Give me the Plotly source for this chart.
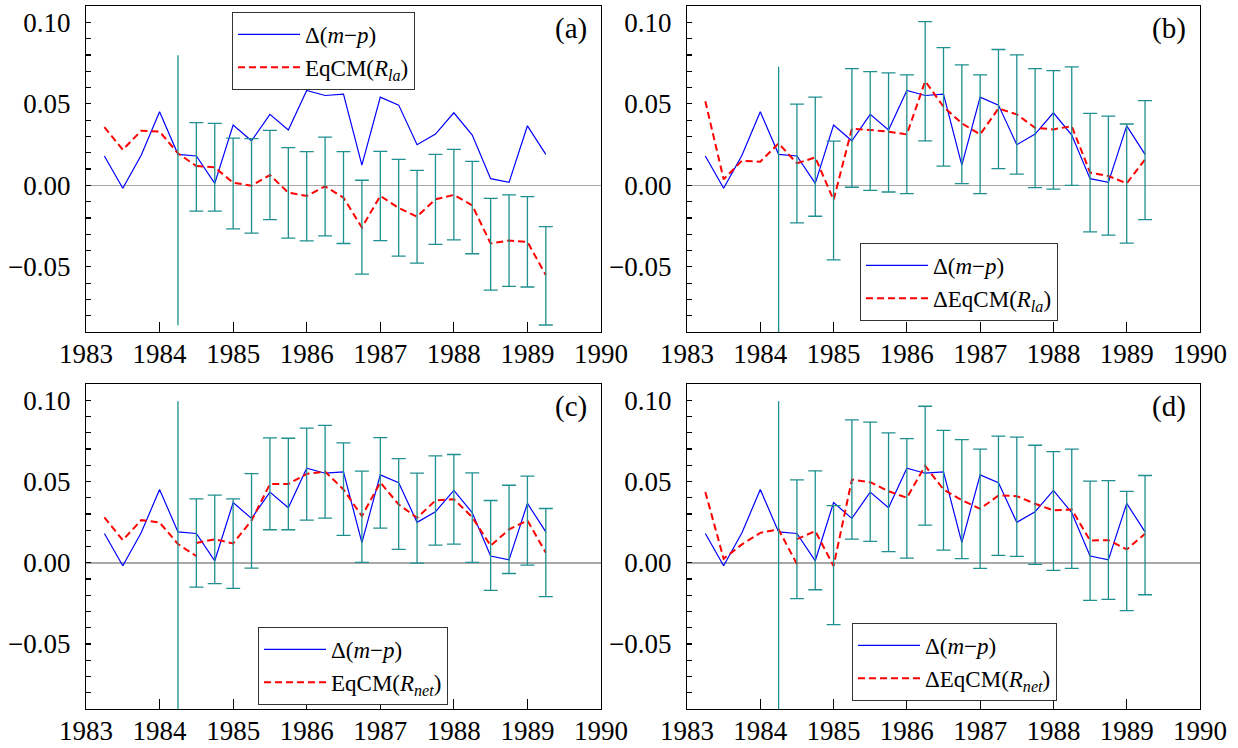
import plotly.graph_objects as go

# ---------------- data ----------------
quarters = [1983.25, 1983.50, 1983.75, 1984.00, 1984.25, 1984.50, 1984.75,
            1985.00, 1985.25, 1985.50, 1985.75, 1986.00, 1986.25, 1986.50,
            1986.75, 1987.00, 1987.25, 1987.50, 1987.75, 1988.00, 1988.25,
            1988.50, 1988.75, 1989.00, 1989.25]

# observed Delta(m-p)
d_mp = [0.0180, -0.0018, 0.0184, 0.0451, 0.0190, 0.0180, 0.0012, 0.0370,
        0.0273, 0.0435, 0.0339, 0.0582, 0.0551, 0.0559, 0.0124, 0.0541,
        0.0492, 0.0249, 0.0314, 0.0445, 0.0308, 0.0041, 0.0018, 0.0365,
        0.0190]

# quarters before the forecast period (1983.25 .. 1984.50)
fit_quarters = [1983.25, 1983.50, 1983.75, 1984.00, 1984.25, 1984.50]
# forecast period (1984.50 .. 1989.25)
fc_quarters = [1984.50, 1984.75, 1985.00, 1985.25, 1985.50, 1985.75, 1986.00,
               1986.25, 1986.50, 1986.75, 1987.00, 1987.25, 1987.50, 1987.75,
               1988.00, 1988.25, 1988.50, 1988.75, 1989.00, 1989.25]
first_bar_quarter = [1984.25]

# (a) EqCM(R_la)
a_fit = [0.0357, 0.0218, 0.0335, 0.0330, 0.0196, 0.0118]
a_fc = [0.0118, 0.0110, 0.0016, -0.0002, 0.0063, -0.0045, -0.0065, -0.0006,
        -0.0076, -0.0259, -0.0065, -0.0139, -0.0192, -0.0086, -0.0059,
        -0.0124, -0.0357, -0.0339, -0.0347, -0.0551]
a_hi = [0.0384, 0.0380, 0.0290, 0.0286, 0.0337, 0.0231, 0.0206, 0.0296,
        0.0206, 0.0031, 0.0208, 0.0159, 0.0092, 0.0190, 0.0220, 0.0147,
        -0.0080, -0.0059, -0.0069, -0.0253]
a_lo = [-0.0159, -0.0159, -0.0267, -0.0294, -0.0210, -0.0324, -0.0341,
        -0.0310, -0.0357, -0.0545, -0.0339, -0.0435, -0.0478, -0.0363,
        -0.0335, -0.0420, -0.0643, -0.0620, -0.0624, -0.0857]
a_first = [0.0798, -0.0859]   # hi, lo

# (b) Delta EqCM(R_la)
b_fit = [0.0516, 0.0037, 0.0151, 0.0145, 0.0257, 0.0135]
b_fc = [0.0135, 0.0171, -0.0090, 0.0347, 0.0339, 0.0329, 0.0312, 0.0639,
        0.0482, 0.0380, 0.0312, 0.0471, 0.0435, 0.0353, 0.0343, 0.0363,
        0.0078, 0.0057, 0.0012, 0.0159]
b_hi = [0.0498, 0.0541, 0.0271, 0.0716, 0.0698, 0.0690, 0.0678, 0.1004,
        0.0845, 0.0739, 0.0678, 0.0833, 0.0800, 0.0716, 0.0704, 0.0727,
        0.0441, 0.0424, 0.0376, 0.0520]
b_lo = [-0.0231, -0.0190, -0.0457, -0.0012, -0.0031, -0.0041, -0.0051,
        0.0273, 0.0118, 0.0010, -0.0051, 0.0102, 0.0069, -0.0014, -0.0024,
        0.0000, -0.0286, -0.0306, -0.0355, -0.0210]
b_first = [0.0727, -0.1300]

# (c) EqCM(R_net)
c_fit = [0.0279, 0.0139, 0.0262, 0.0248, 0.0115, 0.0041]
c_fc = [0.0122, 0.0144, 0.0119, 0.0260, 0.0484, 0.0484, 0.0547, 0.0561,
        0.0451, 0.0287, 0.0494, 0.0359, 0.0277, 0.0383, 0.0391, 0.0280,
        0.0105, 0.0205, 0.0260, 0.0062]
c_hi = [0.0393, 0.0416, 0.0393, 0.0549, 0.0768, 0.0766, 0.0828, 0.0846,
        0.0738, 0.0564, 0.0770, 0.0641, 0.0551, 0.0658, 0.0666, 0.0553,
        0.0383, 0.0477, 0.0533, 0.0334]
c_lo = [-0.0150, -0.0129, -0.0158, -0.0033, 0.0203, 0.0203, 0.0262, 0.0275,
        0.0168, 0.0002, 0.0213, 0.0082, -0.0002, 0.0109, 0.0115, 0.0002,
        -0.0170, -0.0066, -0.0014, -0.0209]
c_first = [0.0994, -0.1300]

# (d) Delta EqCM(R_net)
d_fit = [0.0436, 0.0025, 0.0113, 0.0184, 0.0205, -0.0008]
d_fc = [0.0145, 0.0195, -0.0020, 0.0512, 0.0496, 0.0440, 0.0400, 0.0596,
        0.0451, 0.0385, 0.0332, 0.0414, 0.0410, 0.0363, 0.0322, 0.0328,
        0.0137, 0.0139, 0.0082, 0.0178]
d_hi = [0.0510, 0.0566, 0.0352, 0.0879, 0.0865, 0.0799, 0.0764, 0.0963,
        0.0814, 0.0758, 0.0699, 0.0779, 0.0773, 0.0723, 0.0684, 0.0699,
        0.0502, 0.0506, 0.0439, 0.0537]
d_lo = [-0.0221, -0.0166, -0.0381, 0.0145, 0.0131, 0.0068, 0.0029, 0.0232,
        0.0078, 0.0025, -0.0035, 0.0045, 0.0039, -0.0010, -0.0047, -0.0035,
        -0.0232, -0.0225, -0.0295, -0.0197]
d_first = [0.0994, -0.1300]

panel_labels = ["(a)", "(b)", "(c)", "(d)"]
legend_obs = "Δ(<i>m</i>−<i>p</i>)"
legend_model = ["EqCM(<i>R</i><sub><i>la</i></sub>)",
                "ΔEqCM(<i>R</i><sub><i>la</i></sub>)",
                "EqCM(<i>R</i><sub><i>net</i></sub>)",
                "ΔEqCM(<i>R</i><sub><i>net</i></sub>)"]
year_ticks = [1983, 1984, 1985, 1986, 1987, 1988, 1989, 1990]

# ---------------- styling ----------------
FONT = "Liberation Serif"
BLUE = "#0000ff"
RED = "#ff0000"
TEAL = "#1f8f8f"

panels = [
    dict(fit=a_fit, fc=a_fc, hi=a_hi, lo=a_lo, first=a_first),
    dict(fit=b_fit, fc=b_fc, hi=b_hi, lo=b_lo, first=b_first),
    dict(fit=c_fit, fc=c_fc, hi=c_hi, lo=c_lo, first=c_first),
    dict(fit=d_fit, fc=d_fc, hi=d_hi, lo=d_lo, first=d_first),
]

# pixel geometry of the 1238x748 page
W, H = 1238, 748
L, R, T, B = 86, 38, 6, 39
PW, PH = W - L - R, H - T - B
col_px = [(86, 601), (687, 1200)]
row_px = [(6, 332), (384, 709)]


def px_dom_x(a, b):
    return [(a - L) / PW, (b - L) / PW]


def px_dom_y(a, b):
    return [(H - B - b) / PH, (H - B - a) / PH]


legend_pos_px = [(232, 12), (860, 243), (258, 627), (852, 623)]

fig = go.Figure()
layout_upd = {}

for i, p in enumerate(panels):
    n = i + 1
    xa = "x" if n == 1 else f"x{n}"
    ya = "y" if n == 1 else f"y{n}"
    lg = "legend" if n == 1 else f"legend{n}"
    # observed
    fig.add_trace(go.Scatter(x=quarters, y=d_mp, mode="lines",
                             line=dict(color=BLUE, width=1.2),
                             name=legend_obs, xaxis=xa, yaxis=ya, legend=lg))
    # model (forecast) dashed
    fig.add_trace(go.Scatter(x=fc_quarters, y=p["fc"], mode="lines",
                             line=dict(color=RED, width=2, dash="7px,4px"),
                             name=legend_model[i], xaxis=xa, yaxis=ya, legend=lg))
    fig.add_trace(go.Scatter(x=fit_quarters, y=p["fit"], mode="lines",
                             line=dict(color=RED, width=2, dash="7px,4px"),
                             showlegend=False, xaxis=xa, yaxis=ya, legend=lg))
    # error bars
    fig.add_trace(go.Scatter(
        x=fc_quarters, y=p["fc"], mode="markers",
        marker=dict(size=1, opacity=0),
        error_y=dict(type="data", symmetric=False,
                     array=[h - y for h, y in zip(p["hi"], p["fc"])],
                     arrayminus=[y - l for l, y in zip(p["lo"], p["fc"])],
                     color=TEAL, thickness=1.3, width=7),
        showlegend=False, hoverinfo="skip", xaxis=xa, yaxis=ya))
    y_first = p["fit"][4]
    fig.add_trace(go.Scatter(
        x=first_bar_quarter, y=[y_first], mode="markers",
        marker=dict(size=1, opacity=0),
        error_y=dict(type="data", symmetric=False,
                     array=[p["first"][0] - y_first],
                     arrayminus=[y_first - p["first"][1]],
                     color=TEAL, thickness=1.3, width=0),
        showlegend=False, hoverinfo="skip", xaxis=xa, yaxis=ya))

    c = col_px[i % 2]
    r = row_px[i // 2]
    axis_common = dict(showline=True, linecolor="black", linewidth=1.2,
                       mirror=True, showgrid=False, ticks="inside",
                       tickcolor="black", automargin=False,
                       tickfont=dict(family=FONT, size=27, color="black"))
    xkey = "xaxis" if n == 1 else f"xaxis{n}"
    ykey = "yaxis" if n == 1 else f"yaxis{n}"
    layout_upd[xkey] = dict(axis_common, domain=px_dom_x(*c), range=[1983, 1990],
                            tickvals=year_ticks, ticklen=10, tickwidth=1.2,
                            zeroline=False, anchor=ya, ticklabelstandoff=-3)
    layout_upd[ykey] = dict(axis_common, domain=px_dom_y(*r), range=[-0.09, 0.11],
                            tick0=0, dtick=0.05, tickformat=".2f", ticklen=5,
                            tickwidth=1.2,
                            minor=dict(dtick=0.01, tick0=0, ticks="inside",
                                       ticklen=5, tickcolor="black",
                                       tickwidth=1.2),
                            zeroline=True, zerolinecolor="#a8a8a8",
                            zerolinewidth=1.5, anchor=xa, ticklabelstandoff=9)
    lx, ly = legend_pos_px[i]
    layout_upd[lg] = dict(x=(lx - L) / PW, y=(H - B - ly) / PH,
                          xanchor="left", yanchor="top",
                          bgcolor="white", bordercolor="#333333", borderwidth=1,
                          font=dict(family=FONT, size=23, color="black"),
                          itemwidth=62, tracegroupgap=0, traceorder="normal")

annotations = []
for i, lab in enumerate(panel_labels):
    n = i + 1
    xa = "x" if n == 1 else f"x{n}"
    ya = "y" if n == 1 else f"y{n}"
    annotations.append(dict(text=lab, xref=f"{xa} domain", yref=f"{ya} domain",
                            x=1, y=1, xanchor="right", yanchor="top",
                            xshift=-12, yshift=-4, showarrow=False,
                            font=dict(family=FONT, size=29, color="black")))

fig.update_layout(**layout_upd)
fig.update_layout(template="none", width=W, height=H,
                  margin=dict(l=L, r=R, t=T, b=B, autoexpand=False),
                  paper_bgcolor="white", plot_bgcolor="white",
                  annotations=annotations,
                  font=dict(family=FONT, color="black"))

fig.write_html("out.html",
               config={"displayModeBar": False, "staticPlot": True},
               post_script="document.body.style.margin='0';"
                           "document.body.style.padding='0';"
                           "document.body.style.overflow='hidden';")
